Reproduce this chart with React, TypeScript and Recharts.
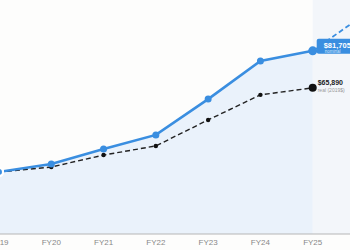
import React from "react";
import {
  ComposedChart,
  Line,
  Area,
  XAxis,
  YAxis,
  ReferenceArea,
} from "recharts";

const years = ["FY19", "FY20", "FY21", "FY22", "FY23", "FY24", "FY25", "FY26"];
const nominal = [30000, 33400, 39800, 45800, 61100, 77400, 81705, null];
const real = [30000, 32100, 37200, 41100, 52200, 62900, 65890, null];
const projection = [null, null, null, null, null, null, 81705, 97400];

const data = years.map((year, i) => ({
  year,
  nominal: nominal[i],
  real: real[i],
  projection: projection[i],
}));

const LAST = 6;
const BLUE = "#3a8ee0";
const FONT = "'Liberation Sans', Arial, sans-serif";

const fmt = (v: number) => `$${v.toLocaleString("en-US")}`;

const NominalLabel = (props: any) => {
  const { x, y, index, value } = props;
  if (index !== LAST) return null;
  return (
    <g fontFamily={FONT}>
      <rect x={x + 4} y={y - 12} width={60} height={15} rx={2} fill={BLUE} />
      <text x={x + 11} y={y - 3} fontSize={7.5} fontWeight="bold" fill="#fff">
        {fmt(value)}
      </text>
      <text x={x + 12} y={y + 2} fontSize={4.5} fill="#d6e8fa">
        nominal
      </text>
    </g>
  );
};

const RealLabel = (props: any) => {
  const { x, y, index, value } = props;
  if (index !== LAST) return null;
  return (
    <g fontFamily={FONT}>
      <text x={x + 5} y={y - 3} fontSize={7} fontWeight="bold" fill="#222">
        {fmt(value)}
      </text>
      <text x={x + 5} y={y + 4} fontSize={5} fill="#999">
        real (2019$)
      </text>
    </g>
  );
};

const blueDot = (props: any) => {
  const { cx, cy, index } = props;
  if (cy == null) return <g key={index} />;
  return <circle key={index} cx={cx} cy={cy} r={index === LAST ? 4.5 : 3.5} fill={BLUE} />;
};

const blackDot = (props: any) => {
  const { cx, cy, index } = props;
  if (cy == null) return <g key={index} />;
  return <circle key={index} cx={cx} cy={cy} r={index === LAST ? 4 : 2.2} fill="#111" />;
};

export default function App() {
  return (
    <div
      style={{
        position: "fixed",
        left: 0,
        top: 0,
        width: 350,
        height: 250,
        overflow: "hidden",
        background: "#fdfdfc",
      }}
    >
      <div style={{ position: "absolute", left: -1, top: 0 }}>
        <ComposedChart
          width={366}
          height={260}
          data={data}
          margin={{ top: 0, right: 0, bottom: 0, left: 0 }}
        >
          <XAxis
            dataKey="year"
            scale="point"
            padding={{ left: 0, right: 0 }}
            height={26}
            tickLine={false}
            tickSize={0}
            tickMargin={5}
            axisLine={{ stroke: "#b5b5b5", strokeWidth: 1.2 }}
            tick={{ fill: "#888", fontSize: 8, fontFamily: FONT }}
            tickFormatter={(v: string) => (v === "FY26" ? "" : v)}
            interval={0}
          />
          <YAxis hide domain={[3500, 103400]} />
          <ReferenceArea
            x1="FY25"
            x2="FY26"
            fill="#f3f6fa"
            fillOpacity={1}
            stroke="none"
          />
          <Area
            dataKey="nominal"
            fill="#eaf2fb"
            fillOpacity={1}
            stroke="none"
            isAnimationActive={false}
          />
          <Line
            dataKey="projection"
            stroke={BLUE}
            strokeWidth={1.8}
            strokeDasharray="5 3"
            dot={false}
            isAnimationActive={false}
          />
          <Line
            dataKey="real"
            stroke="#222"
            strokeWidth={1.4}
            strokeDasharray="5 3"
            dot={blackDot}
            label={<RealLabel />}
            isAnimationActive={false}
          />
          <Line
            dataKey="nominal"
            stroke={BLUE}
            strokeWidth={2.6}
            dot={blueDot}
            label={<NominalLabel />}
            isAnimationActive={false}
          />
        </ComposedChart>
      </div>
    </div>
  );
}
